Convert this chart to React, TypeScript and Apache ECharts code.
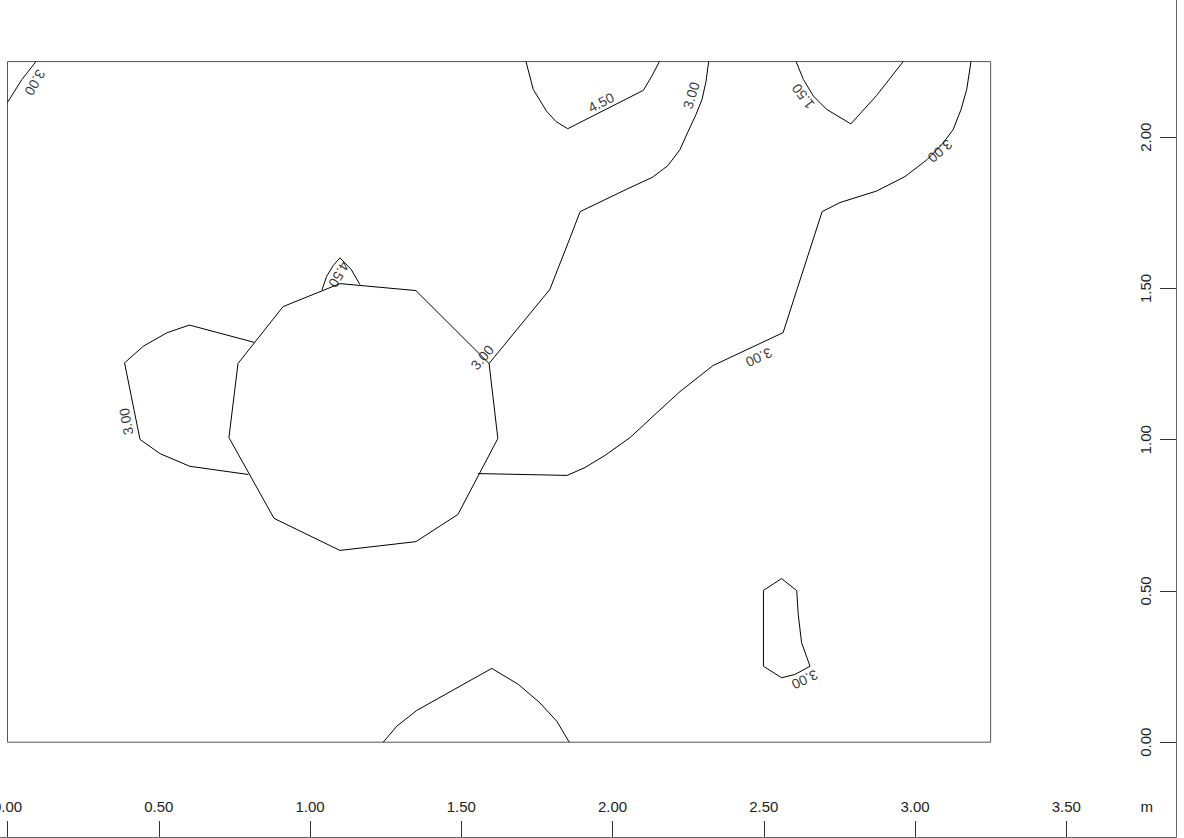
import React, { useEffect, useRef } from "react";
import * as echarts from "echarts";

const FONT = "'Liberation Sans', Arial, Helvetica, sans-serif";

// axis ticks (metres)
const xTicks = [0, 0.5, 1, 1.5, 2, 2.5, 3, 3.5];
const yTicks = [0, 0.5, 1, 1.5, 2];
const unitText = "m";
const xUnitAt = 3.766;

// room outline (metres)
const roomWidth = 3.25;
const roomHeight = 2.25;

// isolines (x, y in metres)
const isoTopLeft300 = [[0, 2.115], [0.047, 2.19], [0.094, 2.25]];
const isoTop450 = [
  [1.714, 2.25], [1.738, 2.158], [1.782, 2.086], [1.813, 2.052], [1.852, 2.028],
  [2.102, 2.155], [2.13, 2.202], [2.155, 2.25],
];
const isoCenter300 = [
  [2.318, 2.25], [2.309, 2.184], [2.296, 2.125], [2.276, 2.075], [2.25, 2.019],
  [2.223, 1.959], [2.183, 1.906], [2.131, 1.867], [2.051, 1.83], [1.893, 1.754],
  [1.86, 1.668], [1.793, 1.497], [1.592, 1.252],
];
const isoPolygon = [
  [0.911, 1.44], [1.099, 1.516], [1.35, 1.493], [1.592, 1.252], [1.621, 1.004],
  [1.489, 0.753], [1.35, 0.663], [1.099, 0.634], [0.881, 0.74], [0.732, 1.007],
  [0.762, 1.252], [0.911, 1.44],
];
const isoSmall450 = [
  [1.039, 1.494], [1.055, 1.54], [1.077, 1.576], [1.099, 1.601], [1.136, 1.563], [1.165, 1.513],
];
const isoLeft300 = [
  [0.815, 1.322], [0.601, 1.379], [0.526, 1.353], [0.449, 1.309], [0.387, 1.254],
  [0.438, 1.001], [0.504, 0.954], [0.603, 0.912], [0.796, 0.885],
];
const isoRight300 = [
  [1.555, 0.888], [1.85, 0.882], [1.909, 0.908], [1.975, 0.948], [2.058, 1.007],
  [2.14, 1.083], [2.223, 1.159], [2.332, 1.245], [2.564, 1.354], [2.61, 1.497],
  [2.693, 1.754], [2.752, 1.784], [2.873, 1.822], [2.967, 1.87], [3.04, 1.926],
  [3.089, 1.976], [3.126, 2.025], [3.152, 2.091], [3.171, 2.158], [3.185, 2.25],
];
const isoTopRight150 = [
  [2.607, 2.25], [2.631, 2.191], [2.664, 2.136], [2.708, 2.092], [2.788, 2.044],
  [2.873, 2.138], [2.961, 2.25],
];
const isoIsland300 = [
  [2.559, 0.541], [2.609, 0.501], [2.614, 0.422], [2.625, 0.329], [2.653, 0.251],
  [2.603, 0.224], [2.559, 0.213], [2.499, 0.251], [2.499, 0.502], [2.559, 0.541],
];
const isoBottom = [
  [1.242, 0], [1.287, 0.053], [1.353, 0.105], [1.601, 0.244], [1.689, 0.191],
  [1.76, 0.13], [1.816, 0.069], [1.857, 0],
];

// isoline value labels
const labelTexts = ["3.00", "4.50", "3.00", "1.50", "3.00", "3.00", "4.50", "3.00", "3.00", "3.00"];
const labelX = [0.091, 1.962, 2.26, 2.63, 3.083, 1.569, 1.096, 0.392, 2.484, 2.636];
const labelY = [2.181, 2.115, 2.138, 2.135, 1.954, 1.272, 1.546, 1.06, 1.272, 0.207];
const labelAngle = [-120, 27, 73, 127, -140, 50, -120, 100, -155, -155];

export default function App() {
  const ref = useRef<HTMLDivElement>(null);
  useEffect(() => {
    if (!ref.current) return;
    const chart = echarts.init(ref.current, undefined, { renderer: "svg" });
    const isolines = [
      isoTopLeft300, isoTop450, isoCenter300, isoPolygon, isoSmall450,
      isoLeft300, isoRight300, isoTopRight150, isoIsland300, isoBottom,
    ];
    const frame = [[0, 0], [roomWidth, 0], [roomWidth, roomHeight], [0, roomHeight], [0, 0]];
    const lineSeries = (data: number[][], color: string) => ({
      type: "line",
      data,
      showSymbol: false,
      symbol: "none",
      silent: true,
      clip: false,
      lineStyle: { color, width: 1 },
    });
    chart.setOption({
      animation: false,
      grid: { left: 0, right: 8, top: 0, bottom: 1, outerBoundsMode: "none", containLabel: false },
      xAxis: {
        type: "value",
        min: -0.0248,
        max: 3.8628,
        position: "bottom",
        splitLine: { show: false },
        axisLine: { show: true, onZero: false, lineStyle: { color: "#666", width: 1 } },
        axisTick: { show: true, inside: true, length: 16, customValues: xTicks, lineStyle: { color: "#333" } },
        axisLabel: {
          inside: true,
          margin: 23,
          customValues: [...xTicks, xUnitAt],
          formatter: (v: number) => (Math.abs(v - xUnitAt) < 1e-6 ? unitText : v.toFixed(2)),
          color: "#222",
          fontSize: 15,
          fontFamily: FONT,
        },
      },
      yAxis: {
        type: "value",
        min: -0.3134,
        max: 2.4536,
        position: "right",
        splitLine: { show: false },
        axisLine: { show: true, onZero: false, lineStyle: { color: "#666", width: 1 } },
        axisTick: { show: true, inside: true, length: 16, customValues: yTicks, lineStyle: { color: "#333" } },
        axisLabel: {
          inside: true,
          rotate: 90,
          margin: 23,
          customValues: yTicks,
          formatter: (v: number) => v.toFixed(2),
          color: "#222",
          fontSize: 15,
          fontFamily: FONT,
        },
      },
      series: [
        lineSeries(frame, "#555"),
        ...isolines.map((d) => lineSeries(d, "#000")),
        {
          type: "scatter",
          silent: true,
          symbolSize: 1,
          itemStyle: { color: "rgba(0,0,0,0)" },
          label: {
            show: true,
            position: "inside",
            formatter: "{b}",
            color: "#000",
            fontSize: 14,
            fontFamily: FONT,
          },
          data: labelTexts.map((t, i) => ({
            name: t,
            value: [labelX[i], labelY[i]],
            label: { rotate: labelAngle[i] },
          })),
        },
      ],
    });
    return () => chart.dispose();
  }, []);
  return (
    <div
      ref={ref}
      style={{ position: "absolute", left: 0, top: 0, width: 1184, height: 838, background: "#fff" }}
    />
  );
}
